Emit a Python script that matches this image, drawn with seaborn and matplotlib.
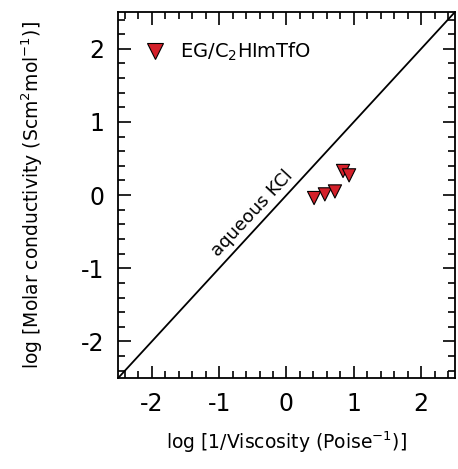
import numpy as np
import pandas as pd
import matplotlib
matplotlib.use('AGG')
import matplotlib.pyplot as plt
import seaborn as sns
from matplotlib.ticker import MultipleLocator

# data
log_inv_visc = [0.41, 0.57, 0.72, 0.84, 0.93]
log_molar_cond = [-0.04, 0.01, 0.05, 0.33, 0.27]
kcl_x = [-2.5, 2.5]
kcl_y = [-2.5, 2.5]
series_name = "EG/C$_2$HImTfO"

df = pd.DataFrame({"x": log_inv_visc, "y": log_molar_cond, "set": series_name})
kcl = pd.DataFrame({"x": kcl_x, "y": kcl_y})

sns.set_style("ticks")
plt.rcParams['font.family'] = ['DejaVu Sans']
plt.rcParams['mathtext.default'] = 'regular'
plt.rcParams['axes.unicode_minus'] = False
plt.rcParams['text.color'] = 'black'
plt.rcParams['axes.labelcolor'] = 'black'

fig = plt.figure(figsize=(4.58, 4.69), dpi=100)
ax = fig.add_axes([0.258, 0.194, 0.735, 0.780])

sns.lineplot(data=kcl, x="x", y="y", color="black", lw=1.3, ax=ax)
sns.scatterplot(data=df, x="x", y="y", hue="set", palette=["#d4202a"],
                marker="v", s=90, edgecolor="black", linewidth=0.8, ax=ax, zorder=3)

ax.set_xlim(-2.5, 2.5)
ax.set_ylim(-2.5, 2.5)
for axis in (ax.xaxis, ax.yaxis):
    axis.set_major_locator(MultipleLocator(1))
    axis.set_minor_locator(MultipleLocator(0.2))
ax.tick_params(which="both", direction="in", top=True, right=True, width=1.2, colors="black")
ax.tick_params(which="major", length=9, labelsize=17, pad=10)
ax.tick_params(which="minor", length=5)
for sp in ax.spines.values():
    sp.set_linewidth(1.3)
    sp.set_color("black")

ax.set_xlabel("log [1/Viscosity (Poise$^{-1}$)]", fontsize=13.5, labelpad=10)
ax.set_ylabel("log [Molar conductivity (Scm$^2$mol$^{-1}$)]", fontsize=13.5, labelpad=26)

ax.text(-0.51, -0.25, "aqueous KCl", rotation=47, rotation_mode="anchor",
        ha="center", va="center", fontsize=13)

ax.legend(loc="upper left", bbox_to_anchor=(0.0, 0.97), frameon=False, fontsize=14,
          handletextpad=0.3, borderaxespad=0.5, markerscale=1.2)

fig.savefig("out.png", dpi=100)
